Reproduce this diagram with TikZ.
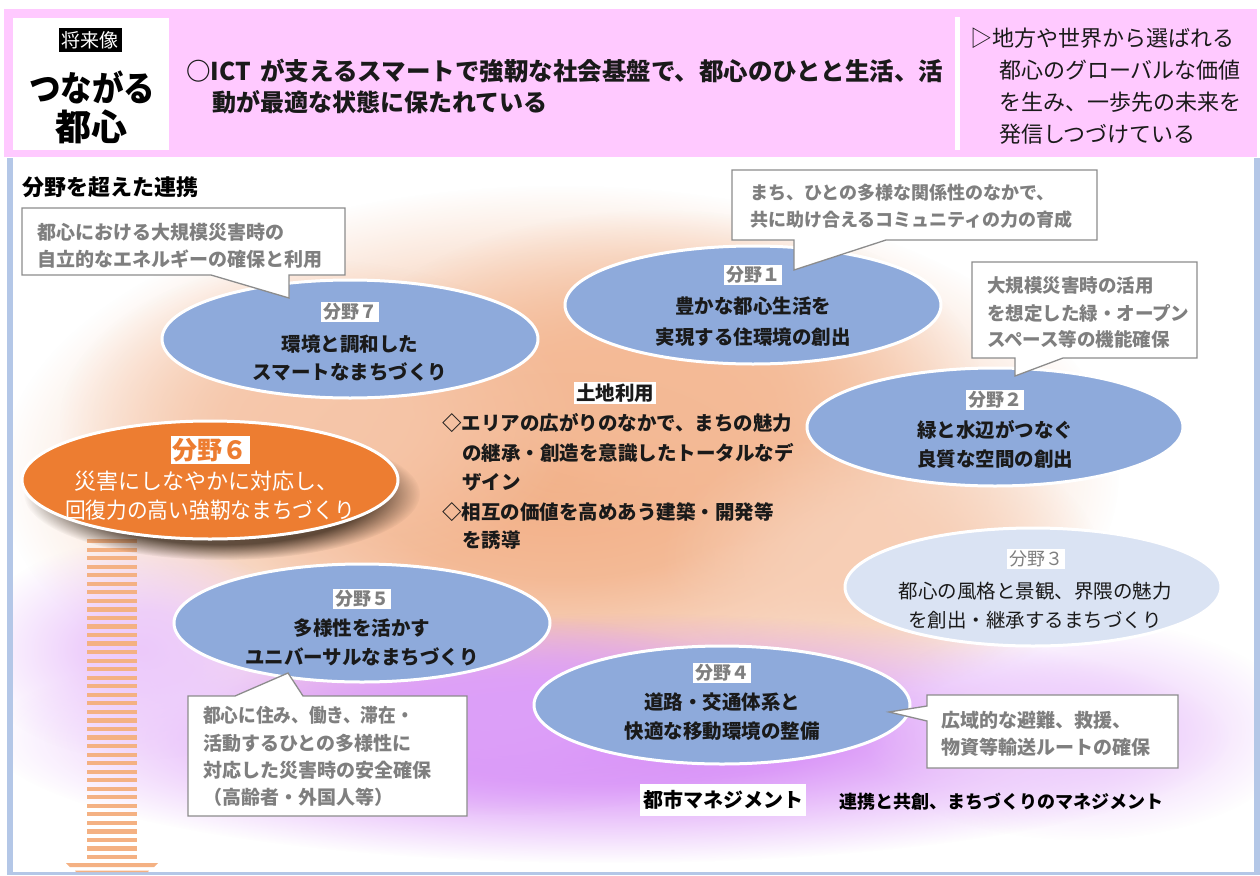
\documentclass[tikz,border=0pt]{standalone}
\usepackage{fontspec}
\setmainfont{Noto Sans CJK JP}
\usetikzlibrary{shapes.geometric,fadings}

\definecolor{pinkbg}{HTML}{FFC9FF}
\definecolor{fblue}{HTML}{8EAADB}
\definecolor{flight}{HTML}{DAE3F3}
\definecolor{forange}{HTML}{ED7D31}
\definecolor{framec}{HTML}{B4C7E7}
\definecolor{greytx}{HTML}{7F7F7F}
\definecolor{cline}{HTML}{8C8C8C}
\definecolor{peach}{HTML}{F2AE84}
\definecolor{lilac}{HTML}{D588F7}
\definecolor{stripec}{HTML}{F4B183}
\definecolor{darktx}{HTML}{1A1A1A}

\pgfdeclareradialshading{glowshade}{\pgfpointorigin}{color(0bp)=(white); color(9bp)=(white!85!black); color(25bp)=(black); color(50bp)=(black)}
\pgfdeclarefading{glow}{\pgfuseshading{glowshade}}
\pgfdeclareradialshading{shadowshade}{\pgfpointorigin}{color(0bp)=(white); color(19bp)=(white); color(25bp)=(black); color(50bp)=(black)}
\pgfdeclarefading{softedge}{\pgfuseshading{shadowshade}}

\tikzset{
  fieldell/.style={ellipse, draw=white, line width=3pt, fill=fblue, minimum width=376pt, minimum height=118pt},
  lab/.style={fill=white, text=greytx, font=\bfseries\fontsize{18}{18}\selectfont, inner xsep=2pt, inner ysep=1.5pt},
  ftext/.style={text=darktx, font=\bfseries\fontsize{19.5}{19.5}\selectfont},
  cbox/.style={draw=cline, fill=white, line width=1.3pt, line join=miter},
  ctext/.style={anchor=west, text=greytx, font=\bfseries\fontsize{19}{19}\selectfont},
  ltext/.style={anchor=west, text=darktx, font=\bfseries\fontsize{19.5}{19.5}\selectfont},
}

\begin{document}
\begin{tikzpicture}[x=1pt, y=-1pt, every node/.append style={inner sep=0pt, outer sep=0pt}]
\useasboundingbox (0,0) rectangle (1260,875);
\fill[white] (0,0) rectangle (1260,875);

% background glows
\begin{scope}
\clip (12,158) rectangle (1254,872);
\fill[peach, path fading=glow] (560,475) ellipse [x radius=560, y radius=290];
\fill[peach!85, path fading=glow] (660,380) ellipse [x radius=320, y radius=170];
\fill[peach!70, path fading=glow] (320,420) ellipse [x radius=260, y radius=160];
\fill[peach!60, path fading=glow] (880,560) ellipse [x radius=220, y radius=130];
\fill[lilac, path fading=glow] (610,738) ellipse [x radius=620, y radius=125];
\fill[lilac!80, path fading=glow] (500,715) ellipse [x radius=280, y radius=100];
\fill[lilac!45, path fading=glow] (140,650) ellipse [x radius=170, y radius=110];
\fill[lilac!40, path fading=glow] (1080,730) ellipse [x radius=220, y radius=110];
\end{scope}

% header
\fill[pinkbg] (4,9) rectangle (1257,157);
\fill[white] (13,18) rectangle (169,150);
\fill[white] (955,17) rectangle (960,150);

% frame
\fill[framec] (7,158) rectangle (13,875);
\fill[framec] (1254,158) rectangle (1260,875);
\fill[framec] (7,872) rectangle (1260,875);

% header texts
\node[fill=black, text=white, font=\fontsize{19}{19}\selectfont, inner xsep=3pt, inner ysep=3.5pt] (badge) at (90,40) {将来像};
\node[text=black, font=\bfseries\fontsize{35}{35}\selectfont] (title1) at (92,87) {\scalebox{0.9}[1]{つながる}};
\node[text=black, font=\bfseries\fontsize{36}{36}\selectfont] (title2) at (91,127) {都心};
\node[anchor=west, text=darktx, font=\bfseries\fontsize{24.5}{24.5}\selectfont] (vision1) at (186,71) {○ICT\, が支えるスマートで強靭な社会基盤で、都心のひとと生活、活};
\node[anchor=west, text=darktx, font=\bfseries\fontsize{24}{24}\selectfont] (vision2) at (212,102) {動が最適な状態に保たれている};
\node[anchor=west, text=darktx, font=\fontsize{22}{22}\selectfont] (goal1) at (970,38) {▷地方や世界から選ばれる};
\node[anchor=west, text=darktx, font=\fontsize{22}{22}\selectfont] (goal2) at (999,70) {都心のグローバルな価値};
\node[anchor=west, text=darktx, font=\fontsize{22}{22}\selectfont] (goal3) at (999,102) {を生み、一歩先の未来を};
\node[anchor=west, text=darktx, font=\fontsize{22}{22}\selectfont] (goal4) at (999,134) {発信しつづけている};

\node[anchor=west, text=black, font=\bfseries\fontsize{22}{22}\selectfont] (renkei) at (22,187) {分野を超えた連携};

% striped arrow
\foreach \i in {0,...,37} {
  \fill[stripec] (87,{539+8.54*\i}) rectangle (137,{543.2+8.54*\i});
}
\fill[stripec] (66,863) -- (158,863) -- (154,867) -- (70,867) -- cycle;
\fill[stripec] (75,870.5) -- (149,870.5) -- (148,872) -- (76,872) -- cycle;

% shadow of field 6
\fill[black!80!brown, opacity=0.72, path fading=softedge] (222,494) ellipse [x radius=198, y radius=66];

% ellipses
\node[fieldell] (f1) at (753,305) {};
\node[fieldell] (f7) at (350,339) {};
\node[fieldell] (f2) at (995,427) {};
\node[fieldell, fill=forange] (f6) at (210,480) {};
\node[fieldell] (f5) at (362,623) {};
\node[fieldell, fill=flight] (f3) at (1033,587) {};
\node[fieldell] (f4) at (722,705) {};

% callouts
\draw[cbox] (22,208) -- (345,208) -- (345,275) -- (289,275) -- (289,298) -- (211,275) -- (22,275) -- cycle;
\draw[cbox] (732,170) -- (1097,170) -- (1097,240) -- (886,240) -- (794,270) -- (794,240) -- (732,240) -- cycle;
\draw[cbox] (972,262) -- (1197,262) -- (1197,358) -- (1063,358) -- (1015,376) -- (1015,358) -- (972,358) -- cycle;
\draw[cbox] (188,696) -- (235,696) -- (288,673) -- (303,696) -- (467,696) -- (467,816) -- (188,816) -- cycle;
\draw[cbox] (927,695) -- (1178,695) -- (1178,768) -- (927,768) -- (927,721) -- (889,712) -- (927,706) -- cycle;

% field texts
\node[lab] (l1) at (753,275) {分野１};
\node[ftext] (t1a) at (753,306) {豊かな都心生活を};
\node[ftext] (t1b) at (753,337) {実現する住環境の創出};

\node[lab] (l7) at (350,312) {分野７};
\node[ftext] (t7a) at (350,344) {環境と調和した};
\node[ftext] (t7b) at (350,372) {スマートなまちづくり};

\node[lab] (l2) at (995,400) {分野２};
\node[ftext] (t2a) at (995,430) {緑と水辺がつなぐ};
\node[ftext] (t2b) at (995,459) {良質な空間の創出};

\node[lab, text=forange, font=\bfseries\fontsize{25}{25}\selectfont, inner ysep=2.5pt] (l6) at (210,450) {分野６};
\node[text=white, font=\fontsize{22}{22}\selectfont] (t6a) at (206,481) {災害にしなやかに対応し、};
\node[text=white, font=\fontsize{22}{22}\selectfont] (t6b) at (210,510) {\scalebox{0.94}[1]{回復力の高い強靭なまちづくり}};

\node[lab] (l5) at (362,599) {分野５};
\node[ftext] (t5a) at (362,628) {多様性を活かす};
\node[ftext] (t5b) at (362,657) {ユニバーサルなまちづくり};

\node[lab, font=\fontsize{18}{18}\selectfont] (l3) at (1036,559) {分野３};
\node[text=darktx, font=\fontsize{19.5}{19.5}\selectfont] (t3a) at (1035,591) {都心の風格と景観、界隈の魅力};
\node[text=darktx, font=\fontsize{19.5}{19.5}\selectfont] (t3b) at (1035,620) {を創出・継承するまちづくり};

\node[lab] (l4) at (722,673) {分野４};
\node[ftext] (t4a) at (722,702) {道路・交通体系と};
\node[ftext] (t4b) at (722,731) {快適な移動環境の整備};

% callout texts
\node[ctext] (c7a) at (37,232) {都心における大規模災害時の};
\node[ctext] (c7b) at (37,259) {自立的なエネルギーの確保と利用};
\node[ctext, font=\bfseries\fontsize{18}{18}\selectfont] (c1a) at (750,193) {まち、ひとの多様な関係性のなかで、};
\node[ctext, font=\bfseries\fontsize{18}{18}\selectfont] (c1b) at (750,220) {共に助け合えるコミュニティの力の育成};
\node[ctext, font=\bfseries\fontsize{18.5}{18.5}\selectfont] (c2a) at (987,286) {大規模災害時の活用};
\node[ctext, font=\bfseries\fontsize{18.5}{18.5}\selectfont] (c2b) at (987,313) {を想定した緑・オープン};
\node[ctext, font=\bfseries\fontsize{18.5}{18.5}\selectfont] (c2c) at (987,339) {スペース等の機能確保};
\node[ctext] (c5a) at (203,715) {\scalebox{0.93}[1]{都心に住み、働き、滞在・}};
\node[ctext] (c5b) at (203,743) {活動するひとの多様性に};
\node[ctext] (c5c) at (203,770) {対応した災害時の安全確保};
\node[ctext] (c5d) at (203,797) {（高齢者・外国人等）};
\node[ctext] (c4a) at (941,720) {広域的な避難、救援、};
\node[ctext] (c4b) at (941,747) {物資等輸送ルートの確保};

% land use
\node[fill=white, text=darktx, font=\bfseries\fontsize{19.5}{19.5}\selectfont, inner xsep=2pt, inner ysep=2pt] (landuse) at (615,393) {土地利用};
\node[ltext] (lu1) at (442,423) {◇エリアの広がりのなかで、まちの魅力};
\node[ltext] (lu2) at (462,453) {の継承・創造を意識したトータルなデ};
\node[ltext] (lu3) at (462,482) {ザイン};
\node[ltext] (lu4) at (442,512) {◇相互の価値を高めあう建築・開発等};
\node[ltext] (lu5) at (462,540) {を誘導};

% management
\node[fill=white, text=black, font=\bfseries\fontsize{20}{20}\selectfont, inner xsep=3pt, inner ysep=6pt] (mgmt) at (723,800) {都市マネジメント};
\node[anchor=west, text=black, font=\bfseries\fontsize{18}{18}\selectfont] (mgmt2) at (839,802) {連携と共創、まちづくりのマネジメント};
\end{tikzpicture}
\end{document}
